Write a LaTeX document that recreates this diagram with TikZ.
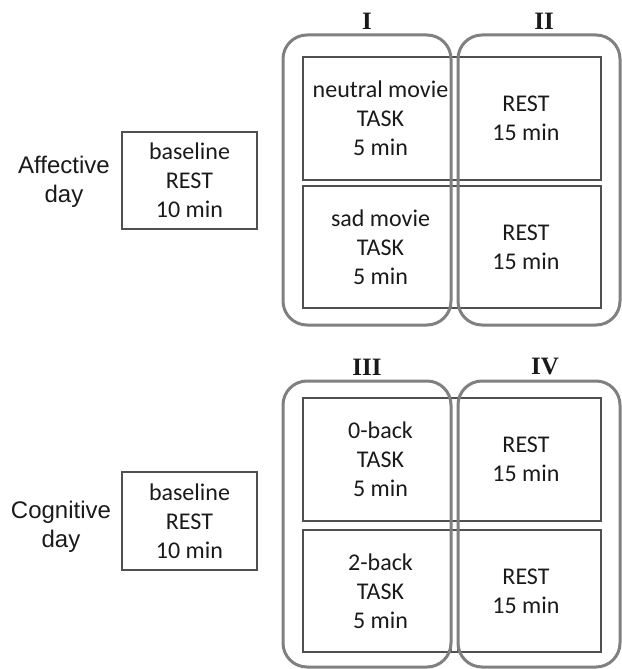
\documentclass[tikz,border=0pt]{standalone}
\usepackage{fontspec}
\setmainfont{Carlito}
\newfontfamily\dayfont{Liberation Sans}
\newfontfamily\numfont{Liberation Serif}
\definecolor{boxline}{HTML}{505050}
\definecolor{groupline}{HTML}{808080}
\definecolor{txt}{HTML}{1A1A1A}
\begin{document}
\begin{tikzpicture}[x=1pt,y=-1pt]
\tikzstyle{every node}=[text=txt,font=\fontsize{24}{29}\selectfont,align=center,inner sep=0pt];
\tikzstyle{block}=[draw=boxline,line width=1.5pt,shape=rectangle];
\tikzstyle{group}=[draw=groupline,line width=3pt,shape=rectangle,rounded corners=24pt];
\tikzstyle{daylabel}=[font=\dayfont\fontsize{24}{29}\selectfont];
\tikzstyle{roman}=[font=\numfont\bfseries\fontsize{25}{30}\selectfont];
\useasboundingbox (0,0) rectangle (621,669);

  % affective day
  \node[daylabel] (aday) at (64,182) {Affective\\day};
  \node[block,minimum width=135pt,minimum height=97pt] (abase) at (189.5,180.5) {baseline\\REST\\10 min};
  \node[block,minimum width=155pt,minimum height=123pt] (neutral) at (380.5,118.5) {neutral movie\\TASK\\5 min};
  \node[block,minimum width=155pt,minimum height=122pt] (sad) at (380.5,247) {sad movie\\TASK\\5 min};
  \node[block,minimum width=150pt,minimum height=123pt] (arest1) at (526,118.5) {REST\\15 min};
  \node[block,minimum width=150pt,minimum height=122pt] (arest2) at (526,247) {REST\\15 min};
  \node[group,minimum width=168pt,minimum height=290pt] (g1) at (367,180) {};
  \node[group,minimum width=162pt,minimum height=290pt] (g2) at (539,180) {};
  \node[roman] (n1) at (367,21) {I};
  \node[roman] (n2) at (544,21) {II};

  % cognitive day
  \node[daylabel] (cday) at (61,527) {Cognitive\\day};
  \node[block,minimum width=135pt,minimum height=98pt] (cbase) at (189.5,521) {baseline\\REST\\10 min};
  \node[block,minimum width=155pt,minimum height=123pt] (zero) at (380.5,459.5) {0-back\\TASK\\5 min};
  \node[block,minimum width=155pt,minimum height=122pt] (two) at (380.5,591) {2-back\\TASK\\5 min};
  \node[block,minimum width=150pt,minimum height=123pt] (crest1) at (526,459.5) {REST\\15 min};
  \node[block,minimum width=150pt,minimum height=122pt] (crest2) at (526,591) {REST\\15 min};
  \node[group,minimum width=168pt,minimum height=286pt] (g3) at (367,524) {};
  \node[group,minimum width=162pt,minimum height=286pt] (g4) at (539,524) {};
  \node[roman] (n3) at (367,367) {III};
  \node[roman] (n4) at (545,367) {IV};

\end{tikzpicture}
\end{document}
